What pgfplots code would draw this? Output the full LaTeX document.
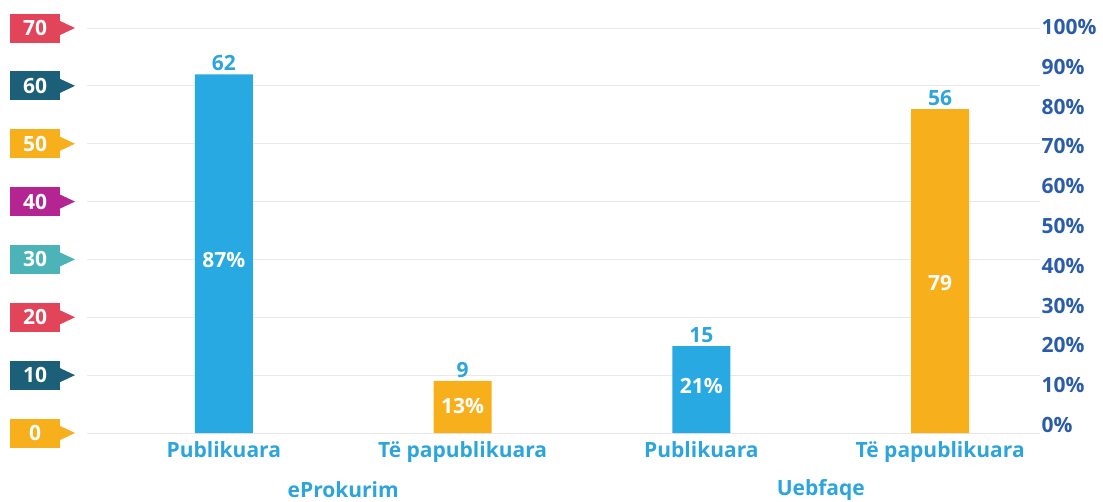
\documentclass[border=0pt]{standalone}
\usepackage{fontspec}
\setmainfont{Open Sans}
\usepackage{pgfplots}
\pgfplotsset{compat=1.18}

\definecolor{barblue}{HTML}{29A9E1}
\definecolor{barorange}{HTML}{F8AF1C}
\definecolor{txtblue}{HTML}{2DA5DC}
\definecolor{rblue}{HTML}{2A5CAA}
\definecolor{tagred}{HTML}{E2445A}
\definecolor{tagdk}{HTML}{1B5F78}
\definecolor{tagor}{HTML}{F8AF1C}
\definecolor{tagmg}{HTML}{B52591}
\definecolor{tagtl}{HTML}{4CB4B8}
\newcommand\lbl{\fontsize{21}{24}\selectfont\bfseries}

\begin{document}
\begin{tikzpicture}[x=1pt,y=1pt]
\useasboundingbox (0,0) rectangle (1103,-501);

% left axis: counts
\begin{axis}[
  at={(87pt,-433pt)}, anchor=south west,
  scale only axis, width=953pt, height=405pt,
  xmin=-0.573, xmax=3.418, ymin=0, ymax=70,
  axis line style={draw=none}, major tick length=0pt,
  ytick={0,10,...,70}, yticklabels={},
  ymajorgrids, grid style={gray!18, line width=0.8pt},
  xtick={0,1,2,3},
  xticklabels={Publikuara, Të papublikuara, Publikuara, Të papublikuara},
  xticklabel style={text=txtblue, font=\lbl, yshift=-5pt},
  /pgf/number format/assume math mode=true,
  clip=false,
]
\addplot[ybar, bar width=58pt, fill=barblue, draw=none,
  nodes near coords, nodes near coords style={text=txtblue, font=\lbl}]
  coordinates {(0,62) (2,15)};
\addplot[ybar, bar width=58pt, fill=barorange, draw=none,
  nodes near coords, nodes near coords style={text=txtblue, font=\lbl}]
  coordinates {(1,9) (3,56)};
% labels inside the bars
\addplot[draw=none, mark=none, nodes near coords, point meta=explicit symbolic,
  nodes near coords style={text=white, anchor=center, font=\lbl}]
  coordinates {(0,29.9)[87\%] (1,4.7)[13\%] (2,8.1)[21\%] (3,25.9)[79]};
\node[text=txtblue, font=\lbl, yshift=-57pt] at (axis cs:0.5,0) {eProkurim};
\node[text=txtblue, font=\lbl, yshift=-57pt] at (axis cs:2.5,0) {Uebfaqe};
\end{axis}

% right axis: percentages
\begin{axis}[
  at={(87pt,-425pt)}, anchor=south west,
  scale only axis, width=953pt, height=398pt,
  xmin=-0.573, xmax=3.418, ymin=0, ymax=100,
  axis line style={draw=none}, major tick length=0pt,
  xtick=\empty, ytick={0,10,...,100},
  yticklabels={0\%,10\%,20\%,30\%,40\%,50\%,60\%,70\%,80\%,90\%,100\%},
  yticklabel pos=right,
  yticklabel style={anchor=west, text=rblue, font=\lbl, xshift=-2pt},
]
\addplot[draw=none] coordinates {(0,0)};
\end{axis}

% coloured tags on the left axis
\foreach \v/\c in {0/tagor,10/tagdk,20/tagred,30/tagtl,40/tagmg,50/tagor,60/tagdk,70/tagred}{
  \pgfmathsetmacro\yy{-433+5.7857*\v}
  \fill[\c] (10,\yy-14.5) rectangle (60,\yy+14.5);
  \fill[\c] (59,\yy+7.5) -- (75,\yy) -- (59,\yy-7.5) -- cycle;
  \node[text=white, font=\lbl] at (35,\yy) {\v};
}
\end{tikzpicture}
\end{document}
